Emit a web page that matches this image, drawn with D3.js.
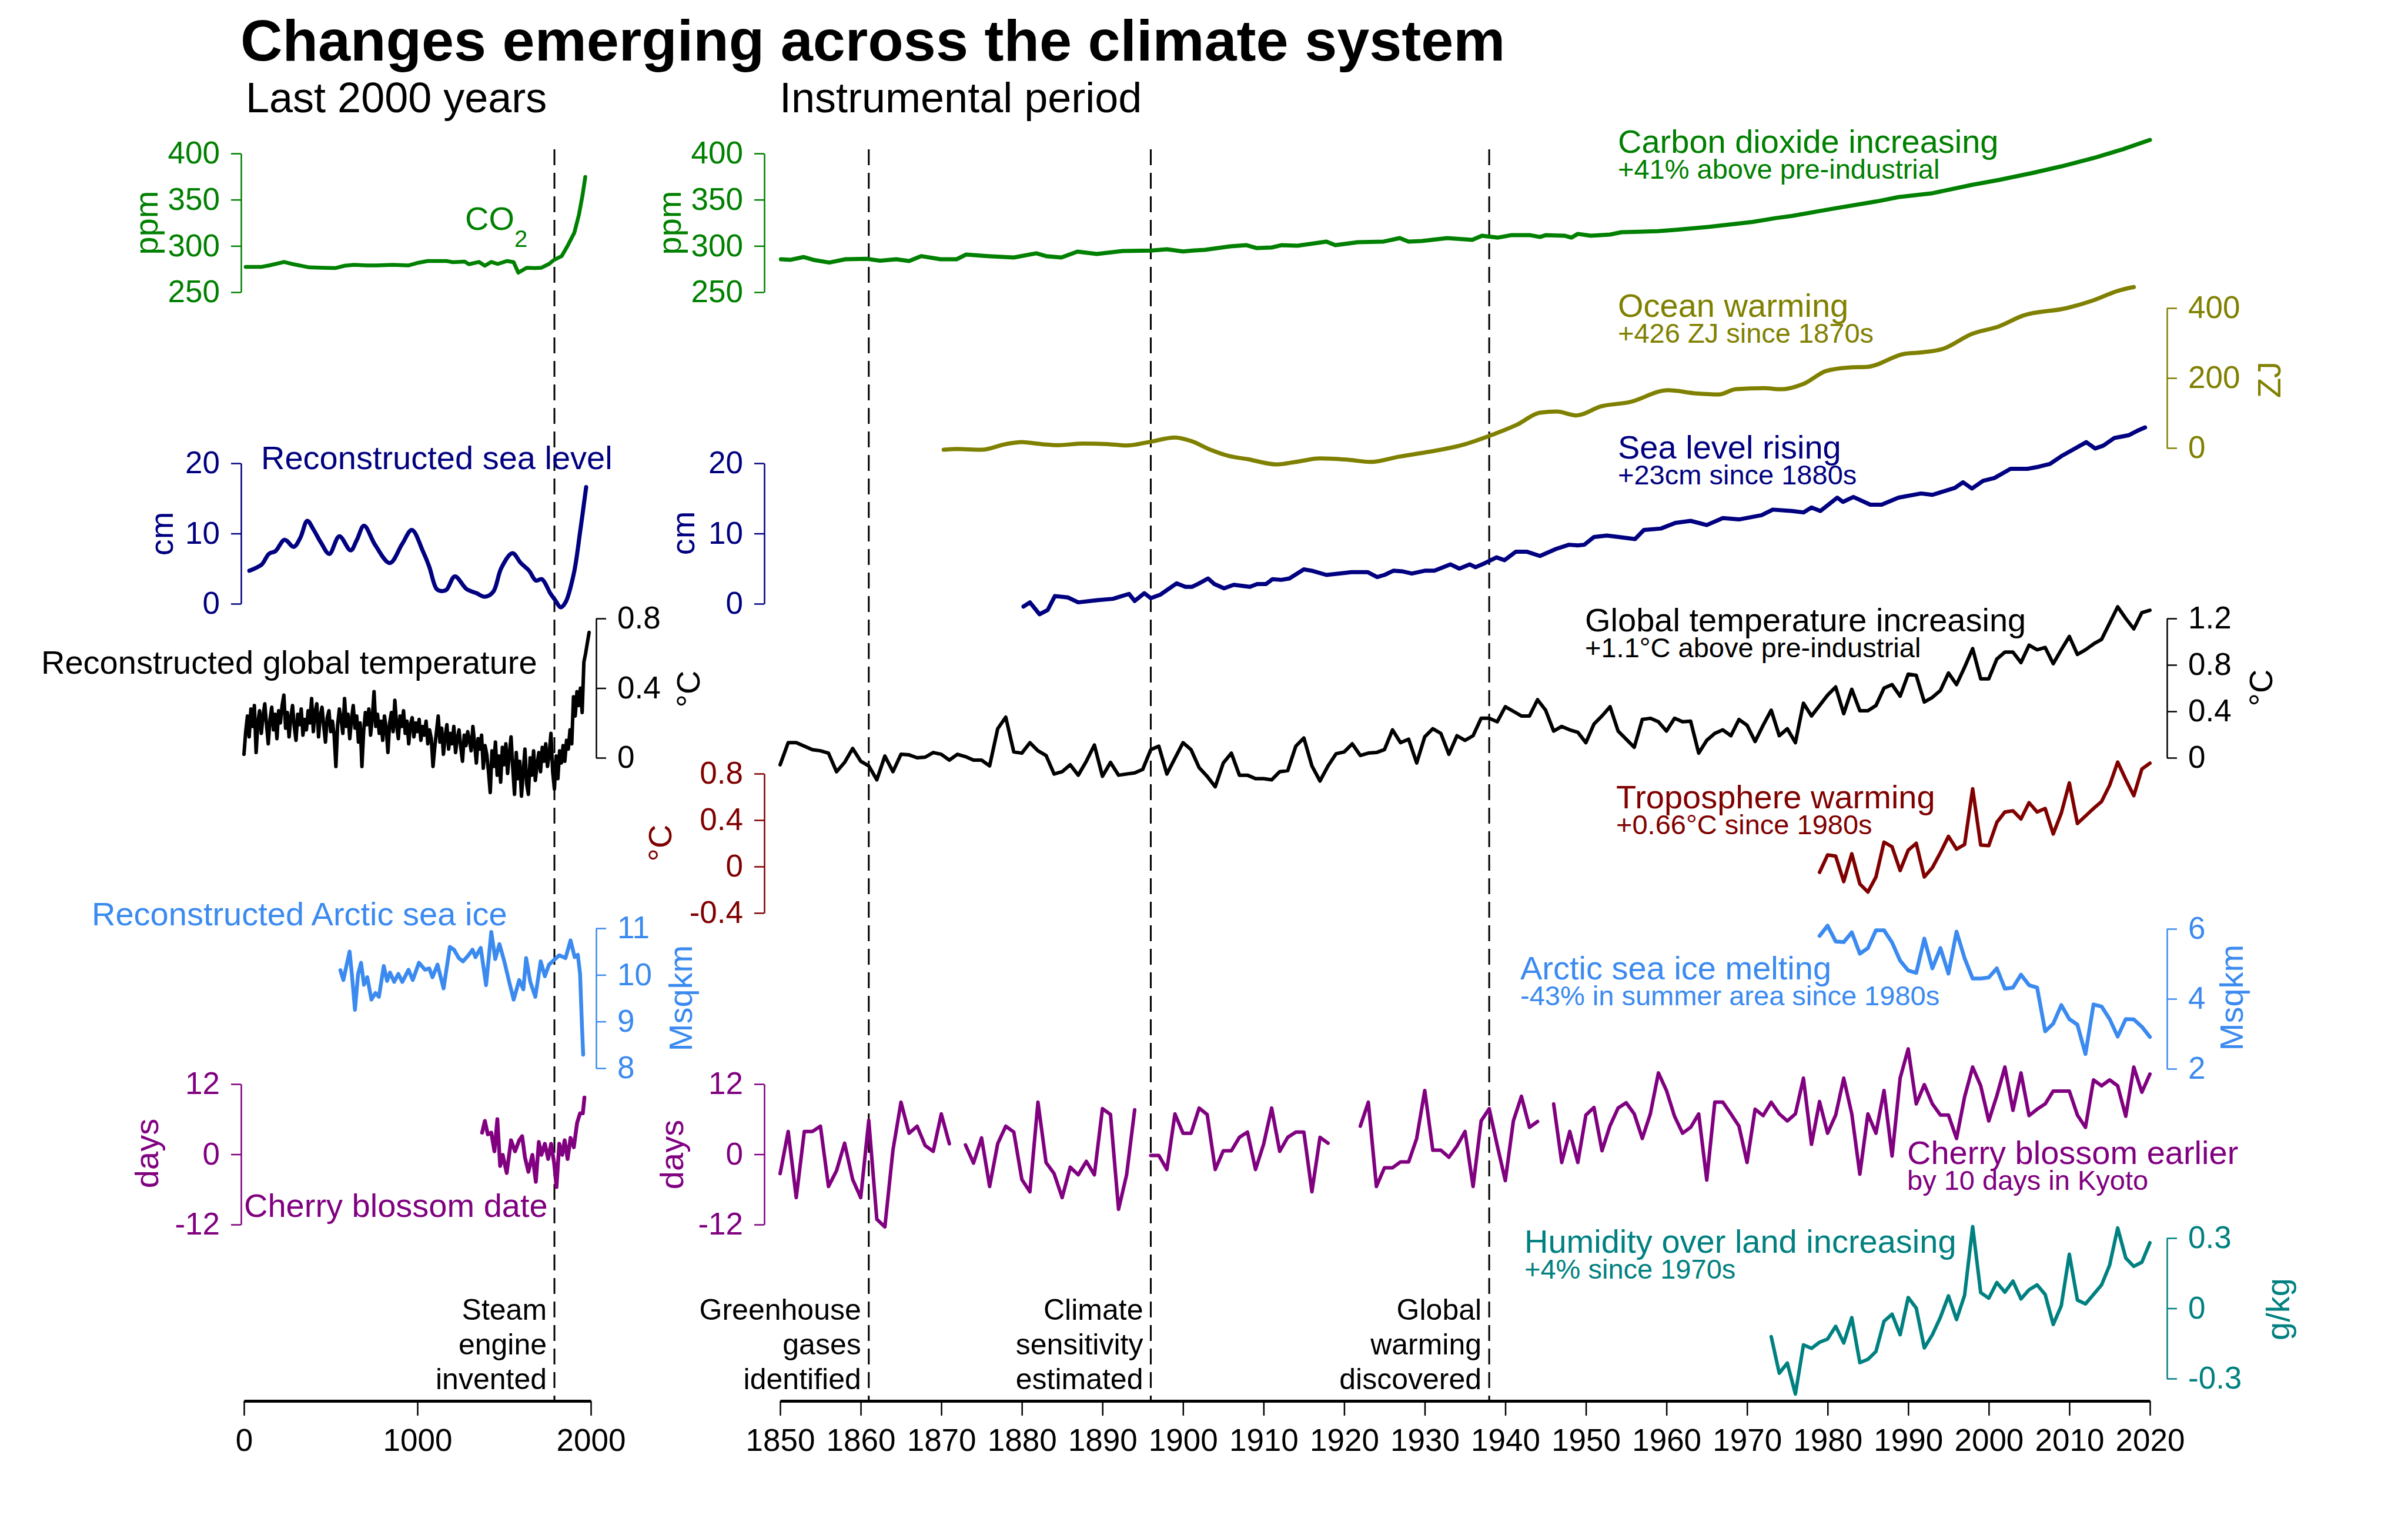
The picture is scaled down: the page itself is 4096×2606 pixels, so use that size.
<!DOCTYPE html>
<html><head><meta charset="utf-8">
<script src="https://cdn.jsdelivr.net/npm/d3@7"></script>
<style>body{margin:0;background:#fff}</style>
</head><body>
<svg id="c" width="4096" height="2606"></svg>
<script>
// ---------------- DATA ----------------
const co2Left = [[10,277.4],[102,277.4],[146,278.9],[231,282.7],[285,280.2],[377,276.8],[452,276.4],[526,276],[581,278.6],[635,279.6],[709,278.9],[764,278.9],[856,279.6],[947,278.9],[1005,281.8],[1059,283.7],[1168,283.7],[1205,282.4],[1273,283],[1297,280.2],[1355,282.7],[1389,278.6],[1426,282.7],[1463,280.5],[1518,283.7],[1555,282.4],[1582,271.1],[1630,276.4],[1677,276],[1715,276.4],[1759,280.5],[1788,284.9],[1832,289],[1868,300.8],[1905,314.4],[1931,333.4],[1952,354.6],[1968,374.6]];
const co2Right = [[1850.1,285.6],[1851.3,285],[1852.9,288],[1854.1,285],[1856.1,282],[1858.1,285.6],[1860.8,286],[1862.4,284],[1864.4,285.6],[1866,283.7],[1867.5,289],[1869.9,285.6],[1871.9,285.6],[1873.1,290.7],[1875.8,289],[1879,287.5],[1881.8,292],[1883,289],[1884.9,287.5],[1886.9,293.9],[1889.3,291.3],[1892.5,294.5],[1896,295],[1898,296.4],[1900,294],[1901.2,295],[1902.7,295.8],[1905.9,299.6],[1907.9,300.8],[1909.1,297.7],[1911,298.3],[1912.2,300.8],[1914.2,300.2],[1917.8,304.7],[1918.9,300.8],[1921.7,304],[1924.9,304.7],[1926.9,308.5],[1928,304.7],[1929.6,305.3],[1932.8,308.5],[1935.9,306.6],[1937.1,311],[1939.1,309],[1940.7,311.6],[1943.1,311.6],[1944.3,309.7],[1945,311.6],[1947.4,311],[1948.2,309],[1949,313],[1950.6,311],[1953,312.3],[1954.4,314.8],[1958.9,316],[1961.1,317.4],[1965.2,320.6],[1970.7,326],[1973.5,330],[1975.6,332.5],[1980.5,340],[1986,348],[1988.8,352.8],[1993,357],[1997.9,366],[2001.3,371.4],[2005.5,379],[2009,386],[2013.2,395.5],[2016.7,404.7],[2020,414.6]];
const oceanRight = [[1870.3,-5],[1872,-3],[1875,-5],[1878,11],[1880,17],[1882,12],[1884.5,8],[1887.6,12.6],[1890.7,11],[1893,7],[1895.8,17],[1899,30],[1901,20],[1903.4,-5],[1905.7,-23],[1908,-32],[1911.6,-47],[1914,-40],[1917,-30],[1920.6,-34],[1923.3,-40],[1926.8,-25],[1930,-13],[1934.6,8],[1938.3,37],[1941.5,67],[1944.3,101],[1946.4,104],[1948.8,93],[1951.9,119],[1955.4,131],[1960.2,165],[1963.7,156],[1966.5,153],[1968.6,168],[1972.1,171],[1974.2,168],[1977,183],[1979.8,220],[1982.6,230],[1985,232],[1989.5,269],[1991.6,273],[1994.4,284],[1997.9,326],[2001.3,348],[2004.2,378],[2009.7,400],[2013.1,423],[2016,449],[2018,460]];
const seaLevelLeft = [[31,4.7],[68,5.1],[103,5.6],[144,7.1],[182,7.5],[234,9.1],[287,8.1],[325,9.4],[365,11.8],[400,10.6],[444,8.7],[492,7.1],[550,9.6],[615,7.6],[651,9.1],[692,11.1],[758,8.3],[841,5.8],[912,8.5],[968,10.5],[1033,7.4],[1068,5.3],[1111,2.1],[1140,1.8],[1168,2.0],[1216,3.9],[1283,2.1],[1341,1.5],[1389,1.0],[1437,1.7],[1484,5.1],[1548,7.2],[1596,5.8],[1644,4.7],[1683,3.3],[1718,3.5],[1766,1.5],[1795,0.5],[1826,-0.5],[1854,0.2],[1902,4.3],[1938,10.2],[1973,16.6]];
const seaLevelRight = [[1880.2,-0.4],[1881,0.2],[1882.2,-1.5],[1883.2,-0.9],[1884.1,1.1],[1885.7,0.9],[1887,0.2],[1889.3,0.5],[1891.3,0.7],[1893.3,1.4],[1894,0.4],[1895.2,1.5],[1896,0.8],[1897.2,1.3],[1899.2,2.9],[1900.3,2.4],[1901.1,2.4],[1902,2.9],[1903.1,3.6],[1903.9,2.8],[1905.1,2.2],[1906.3,2.7],[1908.3,2.4],[1909.2,2.8],[1910.3,2.8],[1911.1,3.5],[1912.2,3.4],[1913.2,3.6],[1915,4.9],[1916,4.7],[1917.8,4.1],[1920.9,4.5],[1922.9,4.5],[1924.1,3.8],[1925,4.1],[1926.1,4.7],[1927.3,4.6],[1928.4,4.3],[1930,4.7],[1931.2,4.7],[1933.2,5.6],[1934.3,5.0],[1935.6,5.6],[1936.3,5.2],[1937.5,5.8],[1938.9,6.6],[1939.9,6.2],[1941.3,7.4],[1942.7,7.4],[1944.3,6.8],[1946.3,7.8],[1947.9,8.4],[1949,8.3],[1949.8,8.4],[1951,9.5],[1952.6,9.7],[1954.1,9.5],[1956.1,9.2],[1957.2,10.5],[1959.3,10.7],[1961.1,11.5],[1963,11.8],[1965,11.2],[1967,12.2],[1969,12.0],[1971.8,12.6],[1973.2,13.4],[1975.6,13.2],[1977,13.0],[1978,13.7],[1979.1,13.2],[1981.2,15.1],[1981.9,14.5],[1983.2,15.2],[1985.3,14.1],[1986.7,14.1],[1988.8,15.1],[1991.6,15.7],[1993,15.5],[1995.8,16.5],[1996.8,17.3],[1997.9,16.4],[1999.3,17.5],[2000.7,17.9],[2002.7,19.2],[2004.8,19.2],[2006.2,19.5],[2007.6,19.9],[2009,21.0],[2010.4,21.9],[2012.1,23.0],[2013.2,22.1],[2014.2,22.5],[2015.6,23.6],[2017.4,24.0],[2018.4,24.6],[2019.4,25.1]];
// reconstructed global temperature, decadal steps from year 0
const tempLeftStart = 0, tempLeftStep = 10;
const tempLeft = [0.02,0.15,0.24,0.12,0.28,0.18,0.30,0.03,0.20,0.27,
0.14,0.24,0.31,0.19,0.08,0.22,0.29,0.16,0.25,0.11,
0.27,0.20,0.30,0.36,0.17,0.26,0.12,0.23,0.30,0.18,
0.10,0.25,0.19,0.28,0.13,0.22,0.16,0.27,0.20,0.34,
0.15,0.26,0.31,0.12,0.24,0.29,0.18,0.09,0.23,0.27,
0.15,0.21,0.13,-0.05,0.19,0.28,0.22,0.14,0.34,0.18,
0.25,0.11,0.22,0.30,0.17,0.24,0.09,0.20,-0.05,0.15,
0.26,0.19,0.28,0.13,0.23,0.38,0.18,0.25,0.14,0.21,
0.10,0.24,0.17,0.03,0.20,0.26,0.15,0.33,0.19,0.11,
0.24,0.18,0.27,0.14,0.21,0.08,0.19,0.23,0.12,0.20,
0.15,0.22,0.10,0.18,0.13,0.21,0.08,0.16,0.11,-0.05,
0.06,0.15,0.24,0.09,0.17,0.02,0.12,0.19,0.05,0.14,
0.08,0.18,0.03,0.11,0.16,0.06,-0.02,0.13,0.07,0.15,
0.10,0.04,0.18,0.08,-0.03,0.11,0.05,0.13,-0.06,0.07,
0.02,-0.08,-0.20,0.04,-0.05,0.09,-0.10,0.01,-0.14,0.06,
-0.04,0.08,-0.09,0.02,0.12,-0.06,-0.21,0.03,-0.12,-0.02,
-0.22,-0.08,0.05,-0.15,-0.21,0.00,-0.10,0.04,-0.13,-0.04,
0.03,-0.08,0.06,-0.02,0.08,-0.05,0.02,0.14,-0.08,-0.18,
0.01,-0.12,0.04,-0.03,0.07,-0.02,0.10,0.05,0.16,0.08,
0.35,0.24,0.38,0.30,0.40,0.26,0.55,0.60,0.66,0.72];
const tempRightStart = 1850;
const tempRight = [-0.06,0.13,0.13,0.10,0.07,0.06,0.04,-0.12,-0.04,0.08,
-0.03,-0.07,-0.19,0.015,-0.12,0.03,0.025,0,0.005,0.045,
0.03,-0.02,0.03,0.01,-0.02,-0.02,-0.07,0.25,0.35,0.05,
0.04,0.13,0.06,0.02,-0.14,-0.12,-0.06,-0.15,-0.03,0.11,
-0.16,-0.04,-0.15,-0.14,-0.13,-0.10,0.07,0.10,-0.14,-0.005,
0.13,0.07,-0.085,-0.16,-0.25,-0.045,0.04,-0.15,-0.15,-0.18,
-0.18,-0.19,-0.12,-0.11,0.10,0.17,-0.07,-0.20,-0.07,0.035,
0.05,0.12,0.02,0.04,0.045,0.07,0.24,0.13,0.16,-0.045,
0.18,0.25,0.21,0.03,0.19,0.15,0.19,0.34,0.34,0.31,
0.44,0.40,0.36,0.36,0.50,0.41,0.23,0.27,0.24,0.22,
0.13,0.29,0.36,0.44,0.23,0.16,0.09,0.33,0.34,0.31,
0.23,0.34,0.31,0.315,0.04,0.15,0.21,0.24,0.19,0.33,
0.28,0.14,0.28,0.41,0.19,0.25,0.13,0.47,0.36,0.45,
0.54,0.61,0.38,0.59,0.405,0.405,0.45,0.60,0.63,0.53,
0.72,0.71,0.48,0.52,0.58,0.73,0.63,0.78,0.94,0.68,
0.68,0.85,0.91,0.91,0.82,0.97,0.93,0.95,0.81,0.93,
1.045,0.89,0.93,0.98,1.02,1.16,1.30,1.20,1.11,1.25,
1.27];
const tropStart = 1979;
const tropRight = [-0.05,0.10,0.09,-0.13,0.11,-0.15,-0.22,-0.09,0.21,0.17,
-0.035,0.14,0.20,-0.09,-0.01,0.12,0.26,0.15,0.19,0.67,
0.185,0.18,0.38,0.47,0.48,0.41,0.55,0.47,0.50,0.28,
0.46,0.72,0.37,0.435,0.50,0.56,0.70,0.90,0.75,0.61,
0.84,0.89];
const seaIceLeft = [[556,10.10],[573,9.89],[609,10.50],[622,10.02],[640,9.25],[658,10.02],[675,10.26],[692,9.79],[711,9.95],[735,9.47],[758,9.61],[778,9.53],[806,10.19],[825,9.87],[842,10.05],[866,9.85],[890,10.02],[913,9.85],[949,10.11],[973,9.89],[1009,10.26],[1044,10.11],[1068,10.14],[1087,9.95],[1116,10.22],[1151,9.71],[1187,10.60],[1211,10.54],[1239,10.36],[1263,10.29],[1294,10.42],[1318,10.54],[1335,10.38],[1365,10.58],[1396,9.78],[1426,10.92],[1449,10.34],[1473,10.66],[1501,10.29],[1532,9.81],[1555,9.47],[1587,9.89],[1611,9.69],[1627,10.36],[1651,9.85],[1680,9.53],[1711,10.29],[1735,9.97],[1759,10.22],[1788,10.32],[1818,10.42],[1854,10.36],[1883,10.74],[1907,10.38],[1925,10.43],[1938,10.02],[1949,8.89],[1956,8.29]];
const seaIceStart = 1979;
const seaIceRight = [5.80,6.09,5.64,5.62,5.90,5.29,5.45,5.96,5.96,5.61,
5.09,4.81,4.74,5.72,4.87,5.45,4.72,5.92,5.16,4.58,
4.58,4.61,4.87,4.29,4.32,4.69,4.39,4.32,3.07,3.29,
3.82,3.42,3.26,2.42,3.84,3.78,3.42,2.92,3.42,3.41,
3.20,2.91];
const cherryLeft = [[1373,3.7],[1389,5.7],[1406,3.4],[1426,3.7],[1444,0.5],[1461,6.0],[1477,-2.0],[1492,-0.1],[1515,-3.2],[1540,2.4],[1563,0.5],[1587,2.4],[1604,3.1],[1620,-0.5],[1640,-3.0],[1663,-0.1],[1683,-4.7],[1700,2.1],[1715,-0.1],[1735,1.8],[1754,-0.8],[1771,1.8],[1788,-1.4],[1802,-5.6],[1818,1.8],[1835,-0.1],[1849,2.4],[1866,-0.8],[1883,2.8],[1902,1.2],[1921,5.4],[1938,7.0],[1954,7.0],[1963,9.7]];
const cherryStart = 1850;
const cherryRight = [-3.3,3.9,-7.4,3.9,3.9,4.8,-5.5,-2.8,1.9,-4.3,
-7.4,5.8,-11.1,-12.4,0.7,8.9,3.6,4.8,1.5,0.5,
6.9,1.8,null,1.6,-1.5,2.8,-5.5,1.8,4.8,3.8,
-4.3,-6.4,8.9,-1.4,-3.3,-7.4,-2.2,-3.5,-1.2,-3.5,
7.8,6.8,-9.4,-3.5,7.6,null,-0.2,-0.2,-2.6,6.9,
3.6,3.6,7.9,6.8,-2.6,0.6,0.6,2.9,3.8,-2.6,
1.7,7.9,0.5,2.9,3.8,3.8,-6.4,2.9,1.9,null,
null,null,4.8,8.9,-5.5,-2.3,-2.3,-1.3,-1.3,2.7,
10.9,0.7,0.7,-0.5,1.4,3.9,-5.5,5.7,7.8,1.5,
-4.5,5.7,9.9,4.6,5.6,null,8.6,-1.4,3.9,-1.4,
6.7,8.0,0.6,4.9,7.9,8.8,6.9,2.7,6.9,13.9,
10.9,6.5,3.6,4.6,6.9,-4.4,8.9,8.9,6.9,4.8,
-1.4,7.7,6.6,8.9,6.9,5.7,6.9,13.0,1.7,9.0,
3.6,6.7,13.0,6.9,-3.4,6.9,3.6,10.9,-0.3,13.0,
18.0,8.6,11.9,8.6,6.7,6.7,2.7,9.8,14.9,11.7,
5.7,10.0,14.9,7.5,13.9,6.6,7.7,8.6,10.8,10.8,
10.8,6.7,4.6,12.7,11.7,12.7,11.7,6.5,14.9,10.6,
13.7];
const humidityStart = 1973;
const humidityRight = [-0.121,-0.277,-0.234,-0.366,-0.156,-0.171,-0.145,-0.131,-0.077,-0.148,
-0.04,-0.232,-0.218,-0.184,-0.055,-0.025,-0.113,0.046,0.001,-0.169,
-0.113,-0.038,0.053,-0.048,0.056,0.349,0.067,0.043,0.11,0.069,
0.116,0.04,0.079,0.1,0.059,-0.069,0.011,0.231,0.035,0.019,
0.059,0.1,0.184,0.343,0.215,0.179,0.197,0.28];

// ticks
const ticksXLeft = [0,1000,2000];
const ticksXRight = [1850,1860,1870,1880,1890,1900,1910,1920,1930,1940,1950,1960,1970,1980,1990,2000,2010,2020];
const ticksCO2 = [250,300,350,400];
const ticksOcean = [0,200,400];
const ticksSea = [0,10,20];
const ticksTempLeft = [0,0.4,0.8];
const ticksTempRight = [0,0.4,0.8,1.2];
const ticksTrop = [-0.4,0,0.4,0.8];
const ticksIceLeft = [8,9,10,11];
const ticksIceRight = [2,4,6];
const ticksCherry = [-12,0,12];
const ticksHum = [-0.3,0,0.3];

// events
const eventYearLeft = [1790];
const eventYearsRight = [1861,1896,1938];
const eventTextLeft = [["Steam","engine","invented"]];
const eventTextRight = [["Greenhouse","gases","identified"],["Climate","sensitivity","estimated"],["Global","warming","discovered"]];

// text
const titleText = "Changes emerging across the climate system";
const headerLeft = "Last 2000 years";
const headerRight = "Instrumental period";

// ---------------- DRAW ----------------
const FONT = '"Liberation Sans", Arial, Helvetica, sans-serif';
const C = {co2:"#008000", ocean:"#808000", sea:"#000080", temp:"#000000", trop:"#800000", ice:"#3b8af0", cherry:"#800080", hum:"#008080"};
const svg = d3.select("#c");
svg.append("rect").attr("width",4096).attr("height",2606).attr("fill","#fff");

const xL = d3.scaleLinear([0,2000],[415,1005]);
const xR = d3.scaleLinear([1850,2020],[1327,3657]);

const yCO2 = d3.scaleLinear([250,400],[497,261]);
const yOcean = d3.scaleLinear([0,400],[762,524]);
const ySea = d3.scaleLinear([0,20],[1027,788]);
const yTempL = d3.scaleLinear([0,0.8],[1289,1052]);
const yTempR = d3.scaleLinear([0,1.2],[1289,1052]);
const yTrop = d3.scaleLinear([-0.4,0.8],[1553,1316]);
const yIceL = d3.scaleLinear([8,11],[1817,1579]);
const yIceR = d3.scaleLinear([2,6],[1818,1580]);
const yCherry = d3.scaleLinear([-12,12],[2083,1844]);
const yHum = d3.scaleLinear([-0.3,0.3],[2345,2106]);

const AX_TOP = 254, AX_Y = 2383;

function text(x,y,t,o={}){
  return svg.append("text").attr("x",x).attr("y",y)
    .attr("font-family",FONT).attr("font-size",o.size||56)
    .attr("font-weight",o.weight||"normal").attr("fill",o.color||"#000")
    .attr("text-anchor",o.anchor||"start").text(t);
}
function vtext(x,y,t,color,size){
  svg.append("text").attr("transform",`translate(${x},${y}) rotate(-90)`)
    .attr("font-family",FONT).attr("font-size",size||56).attr("fill",color)
    .attr("text-anchor","middle").attr("dy","0.35em").text(t);
}
function yAxis(scale,x,side,ticks,color){
  const ax=(side==="left"?d3.axisLeft(scale):d3.axisRight(scale))
    .tickValues(ticks).tickSize(17).tickPadding(19).tickSizeOuter(0).tickFormat(d=>String(d));
  const g=svg.append("g").attr("transform",`translate(${x},0)`).call(ax);
  g.attr("font-size",null).attr("font-family",null);
  g.select(".domain").attr("stroke",color).attr("stroke-width",2.5);
  g.selectAll(".tick line").attr("stroke",color).attr("stroke-width",2.5);
  g.selectAll(".tick text").attr("fill",color).attr("font-size",53).attr("font-family",FONT);
}
function xAxis(scale,ticks){
  const ax=d3.axisBottom(scale).tickValues(ticks).tickSize(25).tickPadding(22).tickSizeOuter(0).tickFormat(d=>String(d));
  const g=svg.append("g").attr("transform",`translate(0,${AX_Y})`).call(ax);
  g.attr("font-size",null).attr("font-family",null);
  g.select(".domain").attr("stroke","#000").attr("stroke-width",5);
  g.selectAll(".tick line").attr("stroke","#000").attr("stroke-width",2.5);
  g.selectAll(".tick text").attr("fill","#000").attr("font-size",53).attr("font-family",FONT);
}
function draw(xs,ys,data,color,w,curve){
  const line=d3.line().defined(d=>d[1]!==null).x(d=>xs(d[0])).y(d=>ys(d[1])).curve(curve||d3.curveLinear);
  svg.append("path").datum(data).attr("d",line).attr("fill","none")
    .attr("stroke",color).attr("stroke-width",w).attr("stroke-linejoin","round").attr("stroke-linecap","round");
}
const annual=(start,vals)=>vals.map((v,i)=>[start+i,v]);

// dashed event lines + labels
function events(xs,years,labels){
  years.forEach((yr,i)=>{
    const x=xs(yr);
    svg.append("line").attr("x1",x).attr("x2",x).attr("y1",AX_TOP).attr("y2",AX_Y)
      .attr("stroke","#000").attr("stroke-width",3).attr("stroke-dasharray","27,13");
    labels[i].forEach((t,j)=>text(x-13,2245+j*59,t,{size:50,anchor:"end"}));
  });
}
events(xL,eventYearLeft,eventTextLeft);
events(xR,eventYearsRight,eventTextRight);

// titles
text(409,103,titleText,{size:99,weight:"bold"});
text(418,191,headerLeft,{size:72});
text(1326,191,headerRight,{size:72});

// axes
xAxis(xL,ticksXLeft);
xAxis(xR,ticksXRight);

yAxis(yCO2,410,"left",ticksCO2,C.co2);
yAxis(ySea,410,"left",ticksSea,C.sea);
yAxis(yCherry,410,"left",ticksCherry,C.cherry);
yAxis(yTempL,1014,"right",ticksTempLeft,C.temp);
yAxis(yIceL,1014,"right",ticksIceLeft,C.ice);

yAxis(yCO2,1300,"left",ticksCO2,C.co2);
yAxis(ySea,1300,"left",ticksSea,C.sea);
yAxis(yTrop,1300,"left",ticksTrop,C.trop);
yAxis(yCherry,1300,"left",ticksCherry,C.cherry);
yAxis(yOcean,3686,"right",ticksOcean,C.ocean);
yAxis(yTempR,3686,"right",ticksTempRight,C.temp);
yAxis(yIceR,3686,"right",ticksIceRight,C.ice);
yAxis(yHum,3686,"right",ticksHum,C.hum);

// axis titles
vtext(248,379,"ppm",C.co2); vtext(1138,379,"ppm",C.co2);
vtext(274,908,"cm",C.sea); vtext(1161,907,"cm",C.sea);
vtext(1170,1172,"°C",C.temp); vtext(1122,1434,"°C",C.trop); vtext(3845,1170,"°C",C.temp);
vtext(1157,1698,"Msqkm",C.ice); vtext(3795,1697,"Msqkm",C.ice);
vtext(249,1962,"days",C.cherry); vtext(1142,1964,"days",C.cherry);
vtext(3859,646,"ZJ",C.ocean); vtext(3874,2227,"g/kg",C.hum);

// series
draw(xL,yCO2,co2Left,C.co2,6.5);
draw(xR,yCO2,co2Right,C.co2,7);
draw(xR,yOcean,oceanRight,C.ocean,7,d3.curveMonotoneX);
draw(xL,ySea,seaLevelLeft,C.sea,7,d3.curveCatmullRom.alpha(0.5));
draw(xR,ySea,seaLevelRight,C.sea,7);
draw(xL,yTempL,annual(tempLeftStart,tempLeft).map(d=>[tempLeftStart+(d[0]-tempLeftStart)*tempLeftStep,d[1]]),C.temp,6);
draw(xR,yTempR,annual(tempRightStart,tempRight),C.temp,6);
draw(xR,yTrop,annual(tropStart,tropRight),C.trop,6);
draw(xL,yIceL,seaIceLeft,C.ice,6.5);
draw(xR,yIceR,annual(seaIceStart,seaIceRight),C.ice,6.5);
draw(xL,yCherry,cherryLeft,C.cherry,6.5);
draw(xR,yCherry,annual(cherryStart,cherryRight),C.cherry,6);
draw(xR,yHum,annual(humidityStart,humidityRight),C.hum,6);

// left panel labels
const co2lab=text(791,391,"CO",{color:C.co2});
co2lab.append("tspan").attr("dy",29).attr("font-size",40).text("2");
text(444,798,"Reconstructed sea level",{color:C.sea});
text(70,1146,"Reconstructed global temperature",{color:C.temp});
text(156,1574,"Reconstructed Arctic sea ice",{color:C.ice});
text(415,2070,"Cherry blossom date",{color:C.cherry});

// right panel labels
function plabel(x,y,main,sub,color){
  text(x,y,main,{color:color,size:56});
  text(x,y+44,sub,{color:color,size:47});
}
plabel(2752,260,"Carbon dioxide increasing","+41% above pre-industrial",C.co2);
plabel(2752,539,"Ocean warming","+426 ZJ since 1870s",C.ocean);
plabel(2752,780,"Sea level rising","+23cm since 1880s",C.sea);
plabel(2696,1074,"Global temperature increasing","+1.1°C above pre-industrial",C.temp);
plabel(2749,1375,"Troposphere warming","+0.66°C since 1980s",C.trop);
plabel(2586,1666,"Arctic sea ice melting","-43% in summer area since 1980s",C.ice);
plabel(3244,1980,"Cherry blossom earlier","by 10 days in Kyoto",C.cherry);
plabel(2593,2131,"Humidity over land increasing","+4% since 1970s",C.hum);
</script>
</body></html>
